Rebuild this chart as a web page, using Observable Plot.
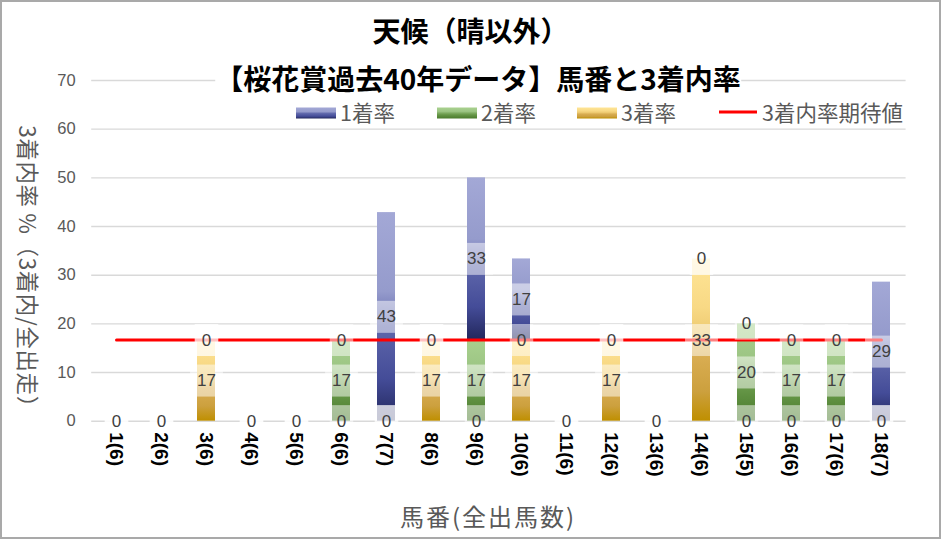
<!DOCTYPE html>
<html><head><meta charset="utf-8">
<script src="https://cdn.jsdelivr.net/npm/d3@7"></script>
<script src="https://cdn.jsdelivr.net/npm/@observablehq/plot@0.6"></script>
<style>
html,body{margin:0;padding:0;background:#fff;}
#chart{position:relative;width:941px;height:539px;overflow:hidden;background:#fff;}
#chart svg{position:absolute;left:0;top:0;}
#frame{position:absolute;left:0;top:0;width:941px;height:539px;box-sizing:border-box;border:2px solid #a9a9a9;pointer-events:none;}
.t{position:absolute;white-space:nowrap;font-family:"Noto Sans CJK JP","Noto Sans",sans-serif;line-height:1;}
.title{font-weight:700;font-size:28px;color:#000;background:#fff;transform:translate(-50%,-50%);}
.axt{font-size:22px;color:#595959;}
.leg{font-size:21.5px;color:#595959;transform:translateY(-50%);}
.sw{position:absolute;width:40px;height:11px;transform:translateY(-50%);}
.ln{position:absolute;width:38px;height:3px;background:#ff0000;transform:translateY(-50%);}
</style></head>
<body><div id="chart"></div>
<script>
// ---- data ----
const horses = ["1(6)","2(6)","3(6)","4(6)","5(6)","6(6)","7(7)","8(6)","9(6)","10(6)","11(6)","12(6)","13(6)","14(6)","15(5)","16(6)","17(6)","18(7)"];
const rate1 = [0,0,0,0,0,0,42.86,0,33.33,16.67,0,0,0,0,0,0,0,28.57];
const rate2 = [0,0,0,0,0,16.67,0,0,16.67,0,0,0,0,0,20,16.67,16.67,0];
const rate3 = [0,0,16.67,0,0,0,0,16.67,0,16.67,0,16.67,0,33.33,0,0,0,0];
const expected = [16.67,16.67,16.67,16.67,16.67,16.67,16.67,16.67,16.67,16.67,16.67,16.67,16.67,16.67,16.67,16.67,16.67,16.67];
const seriesNames = ["1着率","2着率","3着率"];
const lineName = "3着内率期待値";
const yTicks = [0,10,20,30,40,50,60,70];
const titleLines = ["天候（晴以外）","【桜花賞過去40年データ】馬番と3着内率"];
const yTitle = "3着内率 %（3着内/全出走）";
const xTitle = "馬番(全出馬数)";

// stack from bottom: 3着, 2着, 1着
const rows = [];
horses.forEach((h, i) => {
  rows.push({horse: h, series: seriesNames[2], value: rate3[i]});
  rows.push({horse: h, series: seriesNames[1], value: rate2[i]});
  rows.push({horse: h, series: seriesNames[0], value: rate1[i]});
});
const lineRows = horses.map((h, i) => ({horse: h, value: expected[i]}));

const gradStops = {
  g1: [[0,"#a3a8d6"],[0.38,"#959bcc"],[0.55,"#5f67ab"],[0.8,"#444c98"],[1,"#22275c"]],
  g2: [[0,"#a9d18e"],[0.35,"#9cc584"],[0.6,"#6e9e4f"],[0.75,"#5e8f40"],[1,"#4a7a2c"]],
  g3: [[0,"#ffe596"],[0.3,"#f8d985"],[0.45,"#eecb72"],[0.6,"#d9ad52"],[0.82,"#cca03e"],[1,"#bf8f00"]]
};

const numFont = '"Liberation Sans", Arial, sans-serif';

const svg = Plot.plot({
  width: 941, height: 539,
  marginLeft: 91.2, marginRight: 35.4, marginTop: 80, marginBottom: 118.3,
  style: {background: "transparent", fontFamily: numFont, overflow: "visible"},
  x: {domain: horses, paddingInner: 0.6, paddingOuter: 0.3, axis: null},
  y: {domain: [0, 70], axis: null},
  color: {domain: seriesNames, range: ["url(#g1)","url(#g2)","url(#g3)"]},
  marks: [
    Plot.gridY(yTicks, {stroke: "#d9d9d9", strokeOpacity: 1, strokeWidth: 1.4}),
    Plot.barY(rows, Plot.stackY({x: "horse", y: "value", z: "series", fill: "series", order: null})),
    Plot.lineY(lineRows, {x: "horse", y: "value", stroke: "#ff0000", strokeWidth: 3}),
    Plot.text(rows, Plot.stackY({x: "horse", y: "value", z: "series", order: null,
      text: d => String(Math.round(d.value)), fill: "#404040", fontSize: 17, fontFamily: numFont})),
    Plot.axisY(yTicks, {tickSize: 0, tickPadding: 16, label: null, fontSize: 16.5, fontFamily: numFont, color: "#595959"}),
    Plot.axisX({tickSize: 0, tickPadding: 11, tickRotate: 90, label: null, fontSize: 19, fontWeight: "bold", fontFamily: numFont, color: "#000"})
  ]
});

const chart = document.getElementById("chart");
chart.appendChild(svg);

// gradients
const NS = "http://www.w3.org/2000/svg";
const defs = document.createElementNS(NS, "defs");
for (const [id, stops] of Object.entries(gradStops)) {
  const lg = document.createElementNS(NS, "linearGradient");
  lg.setAttribute("id", id);
  lg.setAttribute("x1", "0"); lg.setAttribute("y1", "0");
  lg.setAttribute("x2", "0"); lg.setAttribute("y2", "1");
  for (const [o, c] of stops) {
    const s = document.createElementNS(NS, "stop");
    s.setAttribute("offset", o); s.setAttribute("stop-color", c);
    lg.appendChild(s);
  }
  defs.appendChild(lg);
}
svg.insertBefore(defs, svg.firstChild);

// data label backgrounds (the only plain "text" mark group)
svg.querySelectorAll('g[aria-label="text"]').forEach(grp => {
  const texts = Array.from(grp.querySelectorAll("text"));
  const keyOf = t => (t.getAttribute("transform") || "") + "|" + t.getAttribute("x") + "|" + t.getAttribute("y") + "|" + t.textContent;
  texts.forEach((t, i) => {
    const bb = t.getBBox();
    const r = document.createElementNS(NS, "rect");
    const cy = bb.y + bb.height / 2;
    r.setAttribute("x", bb.x - 7);
    r.setAttribute("y", cy - 16);
    r.setAttribute("width", bb.width + 14);
    r.setAttribute("height", 32);
    r.setAttribute("fill", "#ffffff");
    r.setAttribute("fill-opacity", 0.5);
    r.setAttribute("stroke", "none");
    const tr = t.getAttribute("transform");
    if (tr) r.setAttribute("transform", tr);
    t.parentNode.insertBefore(r, t);
    // identical label drawn again later at same spot: keep only the last glyphs
    const k = keyOf(t);
    if (texts.slice(i + 1).some(u => keyOf(u) === k)) t.setAttribute("visibility", "hidden");
  });
});

// html text overlays
function addDiv(cls, text, left, top, extra) {
  const d = document.createElement("div");
  d.className = "t " + cls;
  d.textContent = text;
  d.style.left = left + "px";
  d.style.top = top + "px";
  if (extra) Object.assign(d.style, extra);
  chart.appendChild(d);
  return d;
}
addDiv("title", titleLines[0], 470.5, 30);
addDiv("title", titleLines[1], 478, 78);
addDiv("axt", yTitle, 29, 272, {transform: "translate(-50%,-50%) rotate(90deg)", fontSize: "22.5px", letterSpacing: "0.6px"});
addDiv("axt", xTitle, 488, 516, {transform: "translate(-50%,-50%)", fontSize: "24px", letterSpacing: "2px"});

// legend
const legendCss = [
  "linear-gradient(to bottom,#a3a8d6,#959bcc 38%,#5f67ab 55%,#444c98 80%,#22275c)",
  "linear-gradient(to bottom,#a9d18e,#9cc584 35%,#6e9e4f 60%,#5e8f40 75%,#4a7a2c)",
  "linear-gradient(to bottom,#ffe596,#f8d985 30%,#eecb72 45%,#d9ad52 60%,#cca03e 82%,#bf8f00)"
];
const legX = [296, 437, 577];
seriesNames.forEach((n, i) => {
  const s = document.createElement("div");
  s.className = "sw";
  s.style.left = legX[i] + "px"; s.style.top = "113px";
  s.style.background = legendCss[i];
  chart.appendChild(s);
  addDiv("leg", n, legX[i] + 44, 112);
});
const ln = document.createElement("div");
ln.className = "ln"; ln.style.left = "719px"; ln.style.top = "112px";
chart.appendChild(ln);
addDiv("leg", lineName, 762, 112);

const fr = document.createElement("div");
fr.id = "frame";
chart.appendChild(fr);
</script>
</body></html>
